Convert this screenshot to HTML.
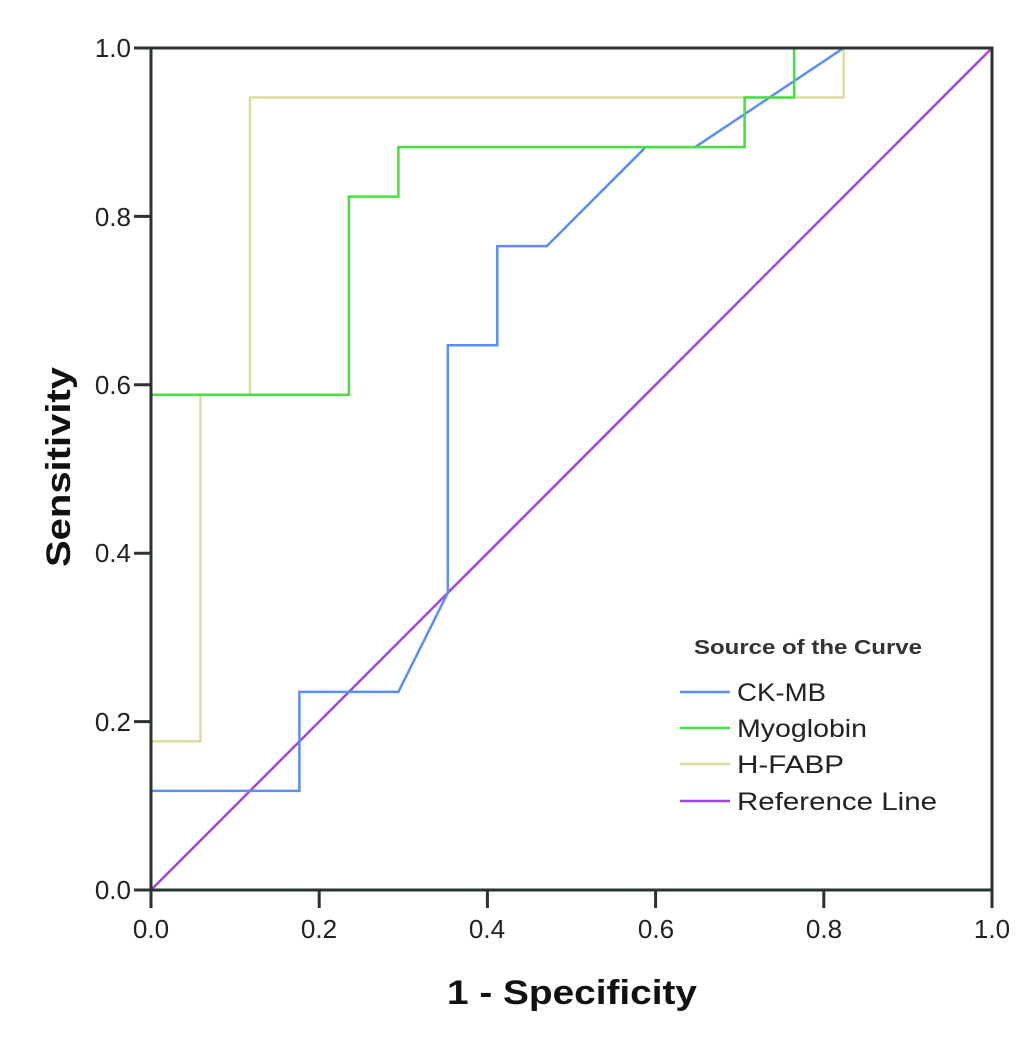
<!DOCTYPE html>
<html><head><meta charset="utf-8"><style>
html,body{margin:0;padding:0;background:#fff;}
svg{display:block;font-family:"Liberation Sans",Arial,sans-serif;}
</style></head><body>
<svg width="1024" height="1045" viewBox="0 0 1024 1045" xmlns="http://www.w3.org/2000/svg">
<rect width="1024" height="1045" fill="#fff"/>
<g fill="none" stroke-width="2.5" stroke-linejoin="miter">
<polyline stroke="#a346e0" points="151,890 992,48"/>
<polyline stroke="#dcdca0" points="151,741.4 200.5,741.4 200.5,394.7 250,394.7 250,97.5 843.6,97.5 843.6,48 992,48"/>
<polyline stroke="#5a8ef5" points="151,890 151,790.9 299.4,790.9 299.4,691.9 398.4,691.9 447.8,592.8 447.8,345.2 497.3,345.2 497.3,246.1 546.8,246.1 645.7,147.1 695.2,147.1 843.6,48 992,48"/>
<polyline stroke="#46e040" points="151,890 151,394.7 348.9,394.7 348.9,196.6 398.4,196.6 398.4,147.1 744.6,147.1 744.6,97.5 794.1,97.5 794.1,48 992,48"/>
</g>
<g stroke="#2a3232" stroke-width="3" fill="none">
<rect x="151" y="48" width="841" height="842"/>
<line x1="134" y1="48" x2="151" y2="48"/><line x1="134" y1="216.4" x2="151" y2="216.4"/>
<line x1="134" y1="384.8" x2="151" y2="384.8"/><line x1="134" y1="553.2" x2="151" y2="553.2"/>
<line x1="134" y1="721.6" x2="151" y2="721.6"/><line x1="134" y1="890" x2="151" y2="890"/>
<line x1="151" y1="890" x2="151" y2="908"/><line x1="319.2" y1="890" x2="319.2" y2="908"/>
<line x1="487.4" y1="890" x2="487.4" y2="908"/><line x1="655.6" y1="890" x2="655.6" y2="908"/>
<line x1="823.8" y1="890" x2="823.8" y2="908"/><line x1="992" y1="890" x2="992" y2="908"/>
</g>
<g font-size="26" fill="#222" text-anchor="end">
<text x="131" y="57">1.0</text><text x="131" y="226">0.8</text><text x="131" y="394">0.6</text>
<text x="131" y="562">0.4</text><text x="131" y="731">0.2</text><text x="131" y="899">0.0</text>
</g>
<g font-size="26" fill="#222" text-anchor="middle">
<text x="151" y="938">0.0</text><text x="319" y="938">0.2</text><text x="487" y="938">0.4</text>
<text x="656" y="938">0.6</text><text x="824" y="938">0.8</text><text x="992" y="938">1.0</text>
</g>
<text x="447" y="1004" font-size="34" font-weight="bold" fill="#111" textLength="250" lengthAdjust="spacingAndGlyphs">1 - Specificity</text>
<text transform="translate(70,567) rotate(-90)" font-size="34" font-weight="bold" fill="#111" textLength="200" lengthAdjust="spacingAndGlyphs">Sensitivity</text>
<text x="694" y="654" font-size="20" font-weight="bold" fill="#333" textLength="228" lengthAdjust="spacingAndGlyphs">Source of the  Curve</text>
<g stroke-width="2.5">
<line x1="680" y1="692" x2="730" y2="692" stroke="#5a8ef5"/>
<line x1="680" y1="728" x2="730" y2="728" stroke="#46e040"/>
<line x1="680" y1="764" x2="730" y2="764" stroke="#dcdca0"/>
<line x1="680" y1="801" x2="730" y2="801" stroke="#a346e0"/>
</g>
<g font-size="25" fill="#222">
<text x="737" y="701" textLength="89" lengthAdjust="spacingAndGlyphs">CK-MB</text>
<text x="737" y="737" textLength="130" lengthAdjust="spacingAndGlyphs">Myoglobin</text>
<text x="737" y="773" textLength="107" lengthAdjust="spacingAndGlyphs">H-FABP</text>
<text x="737" y="810" textLength="200" lengthAdjust="spacingAndGlyphs">Reference Line</text>
</g>
</svg>
</body></html>
